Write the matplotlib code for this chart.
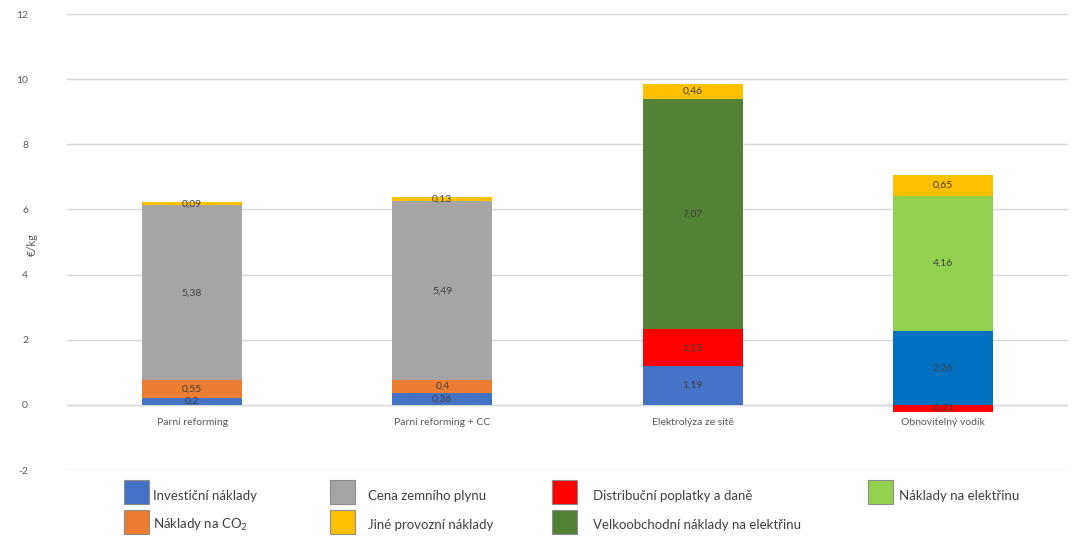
import matplotlib
matplotlib.use("Agg")
import matplotlib.pyplot as plt
from matplotlib.patches import Rectangle
import numpy as np

plt.rcParams["font.family"] = ["Lato", "DejaVu Sans"]

# Cost components of hydrogen production, €/kg
categories = ["Parní reforming", "Parní reforming + CC", "Elektrolýza ze sítě", "Obnovitelný vodík"]

investicni = [0.20, 0.36, 1.19, 2.26]
co2 = [0.55, 0.40, 0.0, 0.0]
plyn = [5.38, 5.49, 0.0, 0.0]
distribucni = [0.0, 0.0, 1.13, -0.21]
velkoobchod = [0.0, 0.0, 7.07, 0.0]
elektrina = [0.0, 0.0, 0.0, 4.16]
jine = [0.09, 0.13, 0.46, 0.65]

series = [
    ("Investiční náklady", investicni, "#4472C4"),
    ("Náklady na CO$_2$", co2, "#ED7D31"),
    ("Cena zemního plynu", plyn, "#A5A5A5"),
    ("Distribuční poplatky a daně", distribucni, "#FF0000"),
    ("Velkoobchodní náklady na elektřinu", velkoobchod, "#548235"),
    ("Náklady na elektřinu", elektrina, "#92D050"),
    ("Jiné provozní náklady", jine, "#FFC000"),
]
# the renewable route's investment block is drawn in a deeper blue
investicni_bar_colors = ["#4472C4", "#4472C4", "#4472C4", "#0070C0"]

yticks = [-2, 0, 2, 4, 6, 8, 10, 12]

fig = plt.figure(figsize=(10.76, 5.40), dpi=100)
ax = fig.add_axes([67 / 1076, 70 / 540, 1001 / 1076, 456 / 540])

x = np.arange(len(categories))
width = 0.40
pos_bottom = np.zeros(len(categories))
neg_bottom = np.zeros(len(categories))

label_color = "#404040"
for name, vals, color in series:
    vals = np.array(vals, dtype=float)
    bottoms = np.where(vals >= 0, pos_bottom, neg_bottom)
    colors = investicni_bar_colors if name.startswith("Investiční") else [color] * len(vals)
    for i, v in enumerate(vals):
        if v == 0:
            continue
        ax.bar(x[i], v, width=width, bottom=bottoms[i], color=colors[i], linewidth=0, zorder=3)
        txt = f"{v:g}".replace(".", ",")
        ax.text(x[i], bottoms[i] + v / 2, txt, ha="center", va="center",
                fontsize=7.5, color=label_color, zorder=4)
    pos_bottom = pos_bottom + np.where(vals > 0, vals, 0)
    neg_bottom = neg_bottom + np.where(vals < 0, vals, 0)

ax.set_xlim(-0.5, len(categories) - 0.5)
ax.set_ylim(-2, 12)
ax.set_yticks(yticks)
ax.set_yticklabels([str(t) for t in yticks])
ax.set_xticks([])
ax.grid(axis="y", color="#D9D9D9", linewidth=1.0, zorder=0)
ax.axhline(0, color="#D9D9D9", linewidth=1.0, zorder=2)
for s in ax.spines.values():
    s.set_visible(False)
ax.tick_params(axis="y", length=0, labelsize=7.5, labelcolor="#595959", pad=28)

# category labels sit just under the zero line
for i, c in enumerate(categories):
    ax.text(x[i], -0.55, c, ha="center", va="center", fontsize=7.5, color="#595959")

fig.text(32 / 1076, 1 - 245 / 540, "€/kg", rotation=90, ha="center", va="center",
         fontsize=8, color="#595959")

# legend drawn as two rows of swatches and labels
legend_layout = [
    ("Investiční náklady", "#4472C4", 124, 153, 0),
    ("Cena zemního plynu", "#A5A5A5", 330, 368, 0),
    ("Distribuční poplatky a daně", "#FF0000", 552, 593, 0),
    ("Náklady na elektřinu", "#92D050", 868, 899, 0),
    ("Náklady na CO$_2$", "#ED7D31", 124, 153, 1),
    ("Jiné provozní náklady", "#FFC000", 330, 368, 1),
    ("Velkoobchodní náklady na elektřinu", "#548235", 552, 593, 1),
]
row_top = [480, 510]
row_text = [496, 525]
for name, color, px, tx, row in legend_layout:
    fig.patches.append(Rectangle((px / 1076, 1 - (row_top[row] + 24) / 540), 25 / 1076, 24 / 540,
                                 transform=fig.transFigure, facecolor=color,
                                 edgecolor="#8C8C8C", linewidth=0.8))
    fig.text(tx / 1076, 1 - row_text[row] / 540, name, ha="left", va="center",
             fontsize=9.5, color="#404040")

fig.savefig("out.png", dpi=100, facecolor="white")
